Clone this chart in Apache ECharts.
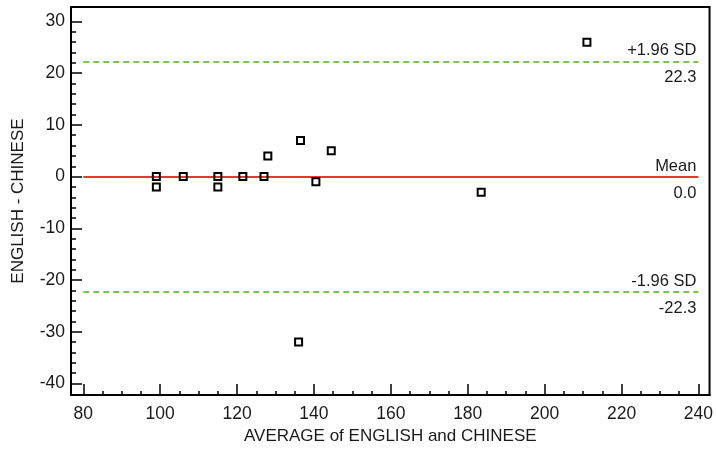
<!DOCTYPE html>
<html>
<head>
<meta charset="utf-8">
<script src="https://cdn.jsdelivr.net/npm/echarts@6/dist/echarts.min.js"></script>
<style>
  html, body { margin: 0; padding: 0; background: #fff; }
  #chart { width: 716px; height: 450px; }
</style>
</head>
<body>
<div id="chart"></div>
<script>
// averages (x) and differences (y)
const avgValues  = [99, 99, 106, 115, 115, 121.5, 127, 128, 136.5, 140.5, 144.5, 136, 183.5, 211];
const diffValues = [0, -2, 0, 0, -2, 0, 0, 4, 7, -1, 5, -32, -3, 26];

const limitNames  = ['+1.96 SD', 'Mean', '-1.96 SD'];
const limitValues = [22.3, 0.0, -22.3];
const limitSpan   = [80, 240];

const xTicks = [80, 100, 120, 140, 160, 180, 200, 220, 240];
const yTicks = [-40, -30, -20, -10, 0, 10, 20, 30];

// minor ticks on y every 2 between the majors
const yMinor = [];
for (let i = 1; i < yTicks.length; i++) {
  for (let k = 2; k < 10; k += 2) yMinor.push(yTicks[i - 1] + k);
}

const chart = echarts.init(document.getElementById('chart'));
const font = 'Liberation Sans, Arial, sans-serif';

const limitLines = [];
limitValues.forEach((v, i) => {
  const isMean = i === 1;
  const style = isMean
    ? { color: '#e23a2a', width: 2, type: 'solid' }
    : { color: '#7cc152', width: 2, type: [6, 4] };
  limitLines.push([
    { coord: [limitSpan[0], v], lineStyle: style,
      label: { show: true, position: 'insideEndTop', formatter: limitNames[i], distance: 2 } },
    { coord: [limitSpan[1], v] }
  ]);
  limitLines.push([
    { coord: [limitSpan[0], v], lineStyle: { color: 'rgba(0,0,0,0)', width: 1, type: 'solid' },
      label: { show: true, position: 'insideEndBottom', formatter: v.toFixed(1), distance: 2, offset: [0, 6] } },
    { coord: [limitSpan[1], v] }
  ]);
});

const option = {
  animation: false,
  textStyle: { fontFamily: font },
  grid: { left: 71, right: 5, top: 7, bottom: 53, show: true, borderColor: '#000', borderWidth: 2 },
  xAxis: {
    type: 'value',
    min: 76.8, max: 242.9,
    splitNumber: 8, minInterval: 20, maxInterval: 20,
    name: 'AVERAGE of ENGLISH and CHINESE',
    nameLocation: 'middle', nameGap: 32,
    nameTextStyle: { fontSize: 17, color: '#1a1a1a', fontFamily: font },
    axisLine: { onZero: false, lineStyle: { color: '#000', width: 2 } },
    axisTick: { inside: true, length: 11, customValues: xTicks, lineStyle: { color: '#000', width: 1.5 } },
    minorTick: { show: true, splitNumber: 4, length: 4, lineStyle: { color: '#000', width: 1.5 } },
    axisLabel: { customValues: xTicks, margin: 10, fontSize: 17.5, color: '#1a1a1a', fontFamily: font },
    splitLine: { show: false }
  },
  yAxis: [{
    type: 'value',
    min: -42.25, max: 32.8,
    splitNumber: 7, minInterval: 10, maxInterval: 10,
    name: 'ENGLISH - CHINESE',
    nameLocation: 'middle', nameGap: 44,
    nameTextStyle: { fontSize: 17, color: '#1a1a1a', fontFamily: font },
    axisLine: { onZero: false, lineStyle: { color: '#000', width: 2 } },
    axisTick: { inside: true, length: 11, customValues: yTicks, lineStyle: { color: '#000', width: 1.5 } },
    axisLabel: { customValues: yTicks, margin: 6, fontSize: 17.5, color: '#1a1a1a', fontFamily: font },
    splitLine: { show: false }
  }, {
    type: 'value',
    position: 'left',
    min: -42.25, max: 32.8,
    splitNumber: 7, minInterval: 10, maxInterval: 10,
    axisLine: { show: false, onZero: false },
    axisTick: { show: true, inside: true, length: 5, customValues: yMinor, lineStyle: { color: '#000', width: 1.5 } },
    axisLabel: { show: false },
    splitLine: { show: false }
  }],
  series: [
    {
      type: 'line',
      data: [],
      silent: true,
      markLine: {
        silent: true,
        symbol: 'none',
        animation: false,
        label: { fontSize: 16.5, color: '#1a1a1a', fontFamily: font },
        data: limitLines
      }
    },
    {
      type: 'scatter',
      symbol: 'rect',
      symbolSize: 7,
      itemStyle: { color: 'rgba(0,0,0,0)', borderColor: '#000', borderWidth: 2, opacity: 1 },
      data: avgValues.map((x, i) => [x, diffValues[i]]),
      z: 5
    }
  ]
};

chart.setOption(option);
</script>
</body>
</html>
